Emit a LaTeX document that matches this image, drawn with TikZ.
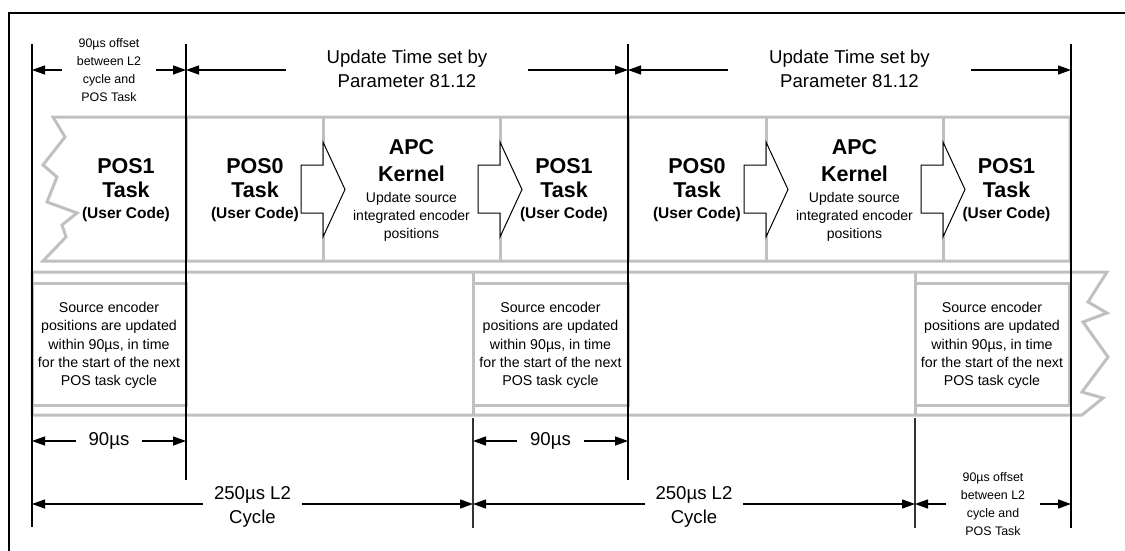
\documentclass[tikz,border=0pt]{standalone}
\usepackage{fontspec}
\setmainfont{Liberation Sans}
\usetikzlibrary{arrows.meta,positioning}
\definecolor{bandgray}{RGB}{192,192,192}

\begin{document}
\begin{tikzpicture}[x=1pt, y=-1pt,
  band/.style = {draw=bandgray, line width=3pt},
  marker/.style = {draw=black, line width=1.3pt},
  dimline/.style = {{Triangle[length=13pt,width=9pt]}-{Triangle[length=13pt,width=9pt]}, line width=1.3pt},
  bigtext/.style = {fill=white, align=center, inner xsep=12pt, inner ysep=1pt,
    font=\fontsize{18.6}{24}\selectfont},
  smalltext/.style = {fill=white, align=center, inner xsep=15pt, inner ysep=1pt,
    font=\fontsize{12.4}{18.2}\selectfont},
  tasktext/.style = {align=center, inner sep=0pt, font=\bfseries\fontsize{21.5}{24}\selectfont},
  kerneltext/.style = {align=center, inner sep=0pt, font=\fontsize{14}{18}\selectfont},
  notetext/.style = {align=center, inner sep=0pt, font=\fontsize{14.2}{18.3}\selectfont},
  blockarrow/.style = {draw=black, fill=white, line width=1pt}]
  \useasboundingbox (0,0) rectangle (1125,551);

  % frame
  \draw[line width=1.3pt] (9,551) -- (9,13) -- (1125,13);

  % task band
  \draw[band] (53,117) -- (1070,117) -- (1070,261) -- (43,261)
    -- (66,237) -- (62,225) -- (77,213) -- (47,202) -- (57,177)
    -- (43,165) -- (65,137) -- cycle;
  \draw[band] (186,117) -- (186,261) (323,117) -- (323,261)
    (500,117) -- (500,261) (628,117) -- (628,261)
    (766,117) -- (766,261) (943,117) -- (943,261);

  % encoder band
  \draw[band] (32,272) -- (1107,272) -- (1088,302) -- (1107,313)
    -- (1083,322) -- (1108,357) -- (1082,392) -- (1103,398)
    -- (1082,415) -- (32,415) -- cycle;
  \draw[band] (473,272) -- (473,415) (915,272) -- (915,415);
  \draw[band] (32,283) rectangle (186,405);
  \draw[band] (473,283) rectangle (628,405);
  \draw[band] (915,283) rectangle (1069,405);

  % block arrows between the tasks
  \draw[blockarrow] (301,165) -- ++(22,0) -- ++(0,-23) -- ++(22,47.5)
    -- ++(-22,47.5) -- ++(0,-24) -- ++(-22,0) -- cycle;
  \draw[blockarrow] (478,165) -- ++(22,0) -- ++(0,-23) -- ++(22,47.5)
    -- ++(-22,47.5) -- ++(0,-24) -- ++(-22,0) -- cycle;
  \draw[blockarrow] (744,165) -- ++(22,0) -- ++(0,-23) -- ++(22,47.5)
    -- ++(-22,47.5) -- ++(0,-24) -- ++(-22,0) -- cycle;
  \draw[blockarrow] (921,165) -- ++(22,0) -- ++(0,-23) -- ++(22,47.5)
    -- ++(-22,47.5) -- ++(0,-24) -- ++(-22,0) -- cycle;

  % tasks
  \node[tasktext] (pos1a) at (126,190) {POS1\\Task\\[-3pt]{\fontsize{15.5}{18}\selectfont (User Code)}};
  \node[tasktext] (pos0a) at (255,190) {POS0\\Task\\[-3pt]{\fontsize{15.5}{18}\selectfont (User Code)}};
  \node[kerneltext] (apca) at (411.5,190.5) {{\bfseries\fontsize{21.5}{24}\selectfont APC}\\[9pt]%
    {\bfseries\fontsize{21.5}{24}\selectfont Kernel}\\[2.5pt]Update source\\integrated encoder\\positions};
  \node[tasktext] (pos1b) at (564,190) {POS1\\Task\\[-3pt]{\fontsize{15.5}{18}\selectfont (User Code)}};
  \node[tasktext] (pos0b) at (697,190) {POS0\\Task\\[-3pt]{\fontsize{15.5}{18}\selectfont (User Code)}};
  \node[kerneltext] (apcb) at (854.5,190.5) {{\bfseries\fontsize{21.5}{24}\selectfont APC}\\[9pt]%
    {\bfseries\fontsize{21.5}{24}\selectfont Kernel}\\[2.5pt]Update source\\integrated encoder\\positions};
  \node[tasktext] (pos1c) at (1006.5,190) {POS1\\Task\\[-3pt]{\fontsize{15.5}{18}\selectfont (User Code)}};

  % encoder notes
  \node[notetext] (srca) at (109,345.5) {Source encoder\\positions are updated\\within 90µs, in time\\for the start of the next\\POS task cycle};
  \node[notetext] (srcb) at (550.5,345.5) {Source encoder\\positions are updated\\within 90µs, in time\\for the start of the next\\POS task cycle};
  \node[notetext] (srcc) at (992,345.5) {Source encoder\\positions are updated\\within 90µs, in time\\for the start of the next\\POS task cycle};

  % timing markers
  \coordinate (t0) at (32,44);   \coordinate (b0) at (32,527);
  \coordinate (t1) at (186,44);  \coordinate (b1) at (186,480);
  \coordinate (t2) at (628,44);  \coordinate (b2) at (628,480);
  \coordinate (t3) at (1071,44); \coordinate (b3) at (1071,528);
  \coordinate (e1) at (473,418); \coordinate (f1) at (473,528);
  \coordinate (e2) at (915,418); \coordinate (f2) at (915,528);
  \draw[marker] (t0) -- (b0);
  \draw[marker] (t1) -- (b1);
  \draw[marker] (t2) -- (b2);
  \draw[marker] (t3) -- (b3);
  \draw[marker, draw=black!80] (e1) -- (f1);
  \draw[marker, draw=black!80] (e2) -- (f2);

  % dimensions
  \coordinate (u0) at (32,70);  \coordinate (u1) at (186,70);
  \coordinate (u2) at (628,70); \coordinate (u3) at (1071,70);
  \coordinate (m0) at (32,441);  \coordinate (m1) at (186,441);
  \coordinate (m2) at (473,441); \coordinate (m3) at (628,441);
  \coordinate (c0) at (32,504);  \coordinate (c1) at (473,504);
  \coordinate (c2) at (915,504); \coordinate (c3) at (1071,504);

  \draw[dimline] (u0) -- (u1) node[midway, smalltext] (offa) {90µs offset\\between L2\\cycle and\\POS Task};
  \draw[dimline] (u1) -- (u2) node[midway, bigtext, inner xsep=41pt, yshift=1.5pt] (upda) {Update Time set by\\Parameter 81.12};
  \draw[dimline] (u2) -- (u3) node[midway, bigtext, inner xsep=41pt, yshift=1.5pt] (updb) {Update Time set by\\Parameter 81.12};
  \draw[dimline] (m0) -- (m1) node[midway, bigtext, inner xsep=13pt] (usa) {90µs};
  \draw[dimline] (m2) -- (m3) node[midway, bigtext, inner xsep=13pt] (usb) {90µs};
  \draw[dimline] (c0) -- (c1) node[midway, bigtext, inner xsep=11pt, yshift=-2.5pt] (cyca) {250µs L2\\Cycle};
  \draw[dimline] (c1) -- (c2) node[midway, bigtext, inner xsep=11pt, yshift=-2.5pt] (cycb) {250µs L2\\Cycle};
  \draw[dimline] (c2) -- (c3) node[midway, smalltext] (offb) {90µs offset\\between L2\\cycle and\\POS Task};
\end{tikzpicture}
\end{document}
